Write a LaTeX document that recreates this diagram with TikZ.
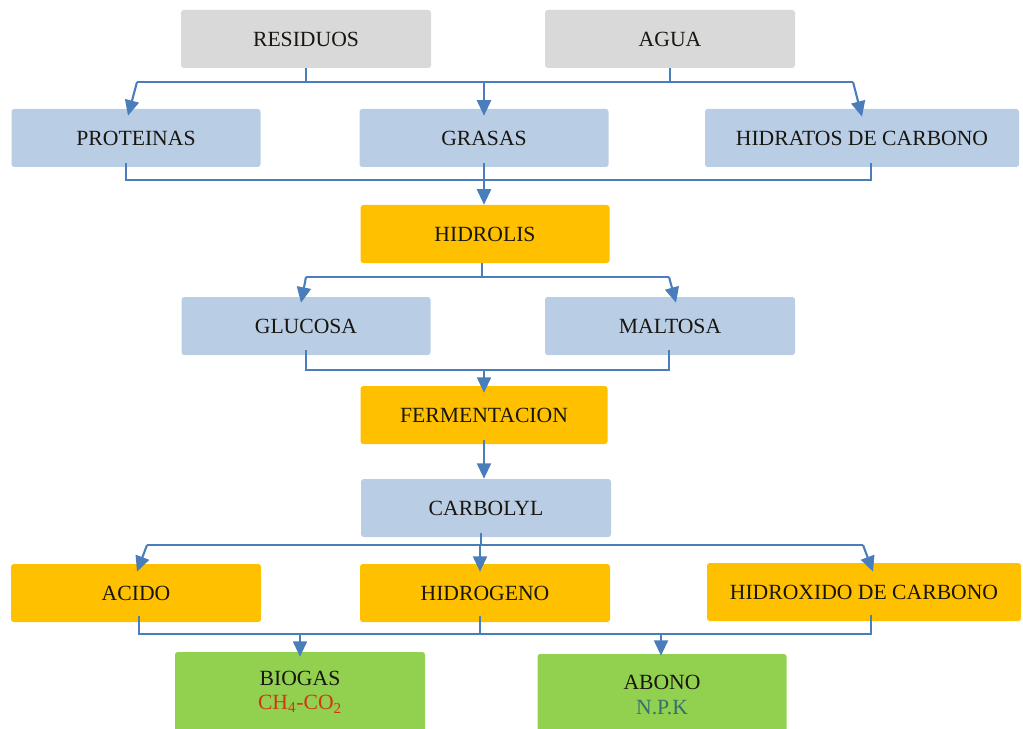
\documentclass[tikz,border=0pt]{standalone}
\usepackage{fontspec}
\setmainfont{Liberation Serif}
\usepackage{tikz}
\usetikzlibrary{arrows.meta,calc}

\definecolor{wastegray}{RGB}{217,217,217}
\definecolor{stageblue}{RGB}{185,205,229}
\definecolor{stagegold}{RGB}{255,192,0}
\definecolor{stagegreen}{RGB}{146,208,80}
\definecolor{linkblue}{RGB}{74,126,187}
\definecolor{gasred}{RGB}{205,55,20}
\definecolor{npkteal}{RGB}{55,110,110}
\definecolor{labeldark}{RGB}{25,22,15}

\begin{document}
\begin{tikzpicture}[x=0.025cm, y=-0.025cm,
  stagebox/.style={rounded corners=2pt, inner sep=0pt, minimum height=58*0.025cm,
    text=labeldark, align=center, font=\fontsize{15.4}{17.5}\selectfont},
  link/.style={draw=linkblue, line width=1.5pt},
  flow/.style={link, -{Triangle[length=11pt,width=10pt]}}]
\useasboundingbox (0,0) rectangle (1023,728);
\clip (0,0) rectangle (1023,728);
%
\newcommand{\stage}[6]{
  \node[stagebox, fill=#5, minimum width=#4*0.025cm] (#1) at (#2, #3) {#6};
}
%
\stage{resid}{306}{39}{250}{wastegray}{RESIDUOS}
\stage{agua}{670}{39}{250}{wastegray}{AGUA}
\stage{prot}{136}{138}{249}{stageblue}{PROTEINAS}
\stage{gras}{484}{138}{249}{stageblue}{GRASAS}
\stage{hidra}{862}{138}{314}{stageblue}{HIDRATOS DE CARBONO}
\stage{hidrol}{485}{234}{249}{stagegold}{HIDROLIS}
\stage{gluc}{306}{326}{249}{stageblue}{GLUCOSA}
\stage{malt}{670}{326}{250}{stageblue}{MALTOSA}
\stage{ferm}{484}{415}{247}{stagegold}{FERMENTACION}
\stage{carb}{486}{508}{250}{stageblue}{CARBOLYL}
\stage{acido}{136}{593}{250}{stagegold}{ACIDO}
\stage{hidrog}{485}{593}{250}{stagegold}{HIDROGENO}
\stage{hidrox}{864}{592}{314}{stagegold}{HIDROXIDO DE CARBONO}
\node[stagebox, fill=stagegreen, minimum width=250*0.025cm, minimum height=80*0.025cm]
  (biogas) at (300, 692) {BIOGAS\\\textcolor{gasred}{CH\textsubscript{4}-CO\textsubscript{2}}};
\node[stagebox, fill=stagegreen, minimum width=249*0.025cm, minimum height=82*0.025cm]
  (abono) at (662, 695) {ABONO\\\textcolor{npkteal}{N.P.K}};
%
% residuos + agua -> nutrientes
\coordinate (tl) at (137,82);
\coordinate (tr) at (853,82);
\draw[link] (resid.south) -- (resid.south |- tl);
\draw[link] (agua.south) -- (agua.south |- tl);
\draw[link] (tl) -- (tr);
\draw[flow] (tl) -- ($(prot.north)+(-8,7)$);
\draw[flow] (gras.north |- tl) -- ($(gras.north)+(0,7)$);
\draw[flow] (tr) -- ($(hidra.north)+(0,8)$);
%
% nutrientes -> hidrolis
\coordinate (bl) at (126,180);
\coordinate (br) at (871,180);
\draw[link] ($(prot.south)+(-10,-4)$) -- (bl) -- (br) -- ($(hidra.south)+(9,-4)$);
\draw[flow] ($(gras.south)+(0,-4)$) -- (gras.south |- hidrol.north);
%
% hidrolis -> azucares
\coordinate (ml) at (306,277);
\coordinate (mr) at (669,277);
\draw[link] ($(hidrol.south)+(-3,0)$) -- ($(hidrol.south)+(-3,14)$);
\draw[link] (ml) -- (mr);
\draw[flow] (ml) -- ($(gluc.north)+(-5,6)$);
\draw[flow] (mr) -- ($(malt.north)+(6,6)$);
%
% azucares -> fermentacion -> carbolyl
\coordinate (gl) at (306,370);
\coordinate (gr) at (669,370);
\draw[link] ($(gluc.south)+(0,-5)$) -- (gl) -- (gr) -- ($(malt.south)+(-1,-5)$);
\draw[flow] (ferm.north |- gl) -- ($(ferm.north)+(0,7)$);
\draw[flow] ($(ferm.south)+(0,-4)$) -- (ferm.south |- carb.north);
%
% carbolyl -> productos
\coordinate (cl) at (147,545);
\coordinate (cr) at (863,545);
\draw[link] ($(carb.south)+(-5,-4)$) -- ($(carb.south)+(-5,8)$);
\draw[link] (cl) -- (cr);
\draw[flow] (cl) -- ($(acido.north)+(1,8)$);
\draw[flow] ($(hidrog.north)+(-5,-19)$) -- ($(hidrog.north)+(-5,8)$);
\draw[flow] (cr) -- ($(hidrox.north)+(9,9)$);
%
% productos -> biogas + abono
\coordinate (el) at (139,634);
\coordinate (er) at (871,634);
\draw[link] ($(acido.south)+(3,-6)$) -- (el) -- (er) -- ($(hidrox.south)+(7,-6)$);
\draw[link] ($(hidrog.south)+(-5,-6)$) -- ($(hidrog.south)+(-5,12)$);
\draw[flow] (biogas.north |- el) -- ($(biogas.north)+(0,5)$);
\draw[flow] ($(abono.north)+(-1,-20)$) -- ($(abono.north)+(-1,2)$);
%
\end{tikzpicture}
\end{document}
